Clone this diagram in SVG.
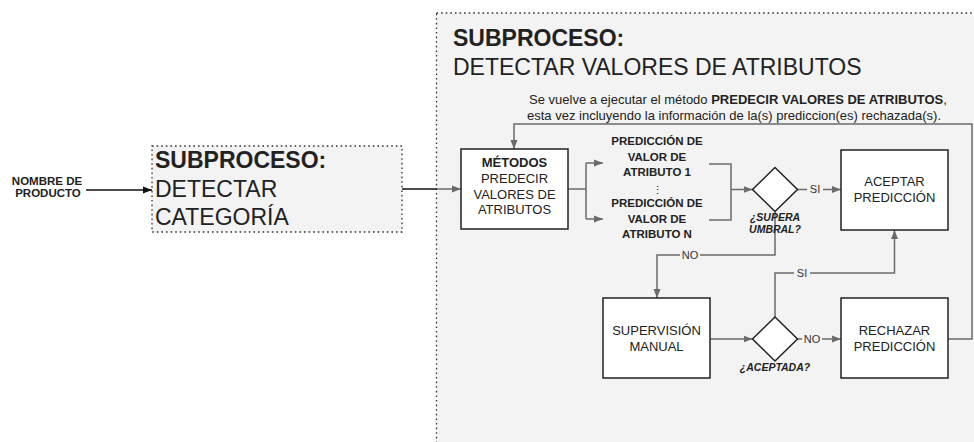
<svg xmlns="http://www.w3.org/2000/svg" width="974" height="442" viewBox="0 0 974 442">
<defs>
<marker id="ag" markerUnits="userSpaceOnUse" markerWidth="10" markerHeight="8" refX="9" refY="4" orient="auto"><path d="M0,0.5 L9,4 L0,7.5 Z" fill="#6b6b6b"/></marker>
<marker id="ab" markerUnits="userSpaceOnUse" markerWidth="10" markerHeight="8" refX="9" refY="4" orient="auto"><path d="M0,0.5 L9,4 L0,7.5 Z" fill="#111"/></marker>
</defs>
<style>
text{font-family:"Liberation Sans",Arial,sans-serif;fill:#222}
.sub{fill:#f3f3f3;stroke:#333;stroke-width:1.3;stroke-dasharray:1.6 3}
.box{fill:#fff;stroke:#222;stroke-width:1.5}
.c{fill:none;stroke:#6b6b6b;stroke-width:1.5}
.cb{fill:none;stroke:#111;stroke-width:1.5}
.big{font-size:23px}
.bt{font-size:13px;text-anchor:middle}
.pb{font-size:11.5px;font-weight:bold;text-anchor:middle}
.q{font-size:10.5px;font-weight:bold;font-style:italic;text-anchor:middle}
.lb{font-size:11px;text-anchor:middle;fill:#333}
.lbg{fill:#f3f3f3}
</style>

<g id="subproceso-atributos">
<rect class="sub" x="436.5" y="13" width="560" height="460"/>
<text class="big" x="453" y="46" font-weight="bold">SUBPROCESO:</text>
<text class="big" x="453" y="75">DETECTAR VALORES DE ATRIBUTOS</text>
<text x="738" y="104" font-size="13" text-anchor="middle">Se vuelve a ejecutar el método <tspan font-weight="bold">PREDECIR VALORES DE ATRIBUTOS</tspan>,</text>
<text x="734" y="120" font-size="13" text-anchor="middle">esta vez incluyendo la información de la(s) prediccion(es) rechazada(s).</text>
</g>

<g id="nombre-producto">
<text class="pb" x="47" y="185">NOMBRE DE</text>
<text class="pb" x="48" y="197">PRODUCTO</text>
</g>

<g id="subproceso-categoria">
<rect class="sub" x="152" y="146" width="250" height="86" fill="#f2f2f2"/>
<text class="big" x="155" y="168" font-weight="bold">SUBPROCESO:</text>
<text class="big" x="155" y="197">DETECTAR</text>
<text class="big" x="155" y="225">CATEGORÍA</text>
</g>

<g id="connectors">
<path class="cb" d="M86,190 H152" marker-end="url(#ab)"/>
<path class="cb" d="M402,189 H437"/>
<path class="c" d="M437,189 H461" marker-end="url(#ag)"/>
<path class="c" d="M568,189 H586 M586,163 V219"/>
<path class="c" d="M586,163 H603" marker-end="url(#ag)"/>
<path class="c" d="M586,219 H603" marker-end="url(#ag)"/>
<path class="c" d="M709,164 H731 V220 H709"/>
<path class="c" d="M731,189.5 H752.5" marker-end="url(#ag)"/>
<path class="c" d="M797.5,189.5 H841" marker-end="url(#ag)"/>
<path class="c" d="M775,211.5 V255 H657 V298" marker-end="url(#ag)"/>
<path class="c" d="M710,339 H752.5" marker-end="url(#ag)"/>
<path class="c" d="M797.5,339 H841" marker-end="url(#ag)"/>
<path class="c" d="M775,317 V273 H894.5 V230" marker-end="url(#ag)"/>
<path class="c" d="M948,339 H972 V124 H514 V149" marker-end="url(#ag)"/>
<rect class="lbg" x="807" y="183" width="16" height="12"/>
<text class="lb" x="815" y="193">SI</text>
<rect class="lbg" x="680" y="249" width="20" height="12"/>
<text class="lb" x="690" y="259">NO</text>
<rect class="lbg" x="794" y="267" width="16" height="12"/>
<text class="lb" x="802" y="277">SI</text>
<rect class="lbg" x="802" y="333" width="20" height="12"/>
<text class="lb" x="812" y="343">NO</text>
</g>

<g id="metodos">
<rect class="box" x="461" y="149" width="107" height="80"/>
<text class="bt" x="514.5" y="167" font-weight="bold">MÉTODOS</text>
<text class="bt" x="514.5" y="183">PREDECIR</text>
<text class="bt" x="514.5" y="198.5">VALORES DE</text>
<text class="bt" x="514.5" y="214">ATRIBUTOS</text>
</g>

<g id="predicciones">
<text class="pb" x="657" y="145">PREDICCIÓN DE</text>
<text class="pb" x="657" y="160.7">VALOR DE</text>
<text class="pb" x="657" y="176">ATRIBUTO 1</text>
<text x="657" y="194" font-size="11" text-anchor="middle" font-family="DejaVu Sans, sans-serif">⋮</text>
<text class="pb" x="657" y="207">PREDICCIÓN DE</text>
<text class="pb" x="657" y="222.7">VALOR DE</text>
<text class="pb" x="657" y="237.5">ATRIBUTO N</text>
</g>

<g id="supera-umbral">
<path class="box" d="M775,167.5 L797.5,189.5 L775,211.5 L752.5,189.5 Z"/>
<text class="q" x="775" y="221">¿SUPERA</text>
<text class="q" x="775" y="233">UMBRAL?</text>
</g>

<g id="aceptar">
<rect class="box" x="841" y="150" width="107" height="80"/>
<text class="bt" x="894.5" y="186">ACEPTAR</text>
<text class="bt" x="894.5" y="201.7">PREDICCIÓN</text>
</g>

<g id="supervision">
<rect class="box" x="603" y="298" width="107" height="80"/>
<text class="bt" x="656.5" y="335">SUPERVISIÓN</text>
<text class="bt" x="656.5" y="350.5">MANUAL</text>
</g>

<g id="aceptada">
<path class="box" d="M775,317 L797.5,339 L775,361 L752.5,339 Z"/>
<text class="q" x="775" y="371">¿ACEPTADA?</text>
</g>

<g id="rechazar">
<rect class="box" x="841" y="298" width="107" height="80"/>
<text class="bt" x="894.5" y="335">RECHAZAR</text>
<text class="bt" x="894.5" y="350.5">PREDICCIÓN</text>
</g>
</svg>
